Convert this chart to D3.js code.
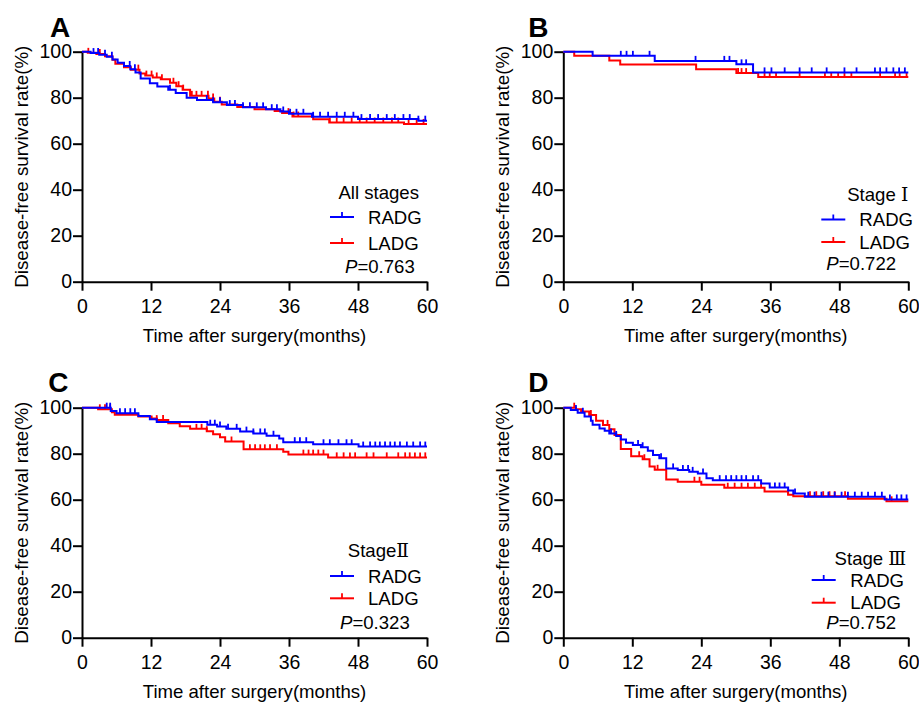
<!DOCTYPE html>
<html>
<head>
<meta charset="utf-8">
<script src="https://cdn.jsdelivr.net/npm/d3@7"></script>
<style>
body { margin: 0; background: #fff; }
text { font-family: "Liberation Sans", Arial, sans-serif; fill: #000; }
</style>
</head>
<body>
<svg id="chart" width="919" height="703"></svg>
<script>
// ---- data ----
const xTicks = [0, 12, 24, 36, 48, 60];
const yTicks = [0, 20, 40, 60, 80, 100];
const groups = ["RADG", "LADG"];
const groupColors = ["#0000ff", "#ff0000"];
const panelLetters = ["A", "B", "C", "D"];
const stageNames = ["All stages", "Stage ", "Stage", "Stage "];
const stageNumerals = ["", "Ⅰ", "Ⅱ", "Ⅲ"];
const pValues = ["0.763", "0.722", "0.323", "0.752"];

// step points: [month, survival %] — survival drops to the value at that month
const radgA = [[0,100],[1.5,99.4],[3,98.7],[4.3,97.8],[5.3,96.6],[6.2,95.2],[7.3,93.8],[8.4,92.4],[9.3,91],[10.2,88.3],[11.8,86.3],[13.1,84.9],[15,83.5],[16.3,82],[18.2,80],[20,79],[22.8,78],[25.2,76.8],[28,75.8],[32,75],[34.5,74],[36,73],[40,71.7],[48,70.7],[58.5,70]];
const ladgA = [[0,100],[1,99.5],[2.5,99],[4,98],[5.3,96.5],[5.8,94.8],[7.3,93.2],[8.5,92.2],[10,90.5],[11,89.6],[12.3,88.8],[13.7,88],[15.3,86.5],[16.4,85],[17.5,83.5],[18.8,80.8],[22,79.6],[23,78.2],[24.3,77],[27,76],[30,75],[33.5,74.2],[34.8,73.3],[36.6,71.8],[40.2,70.6],[43,69.2],[56,68.6]];
const radgCensA = [2,2.8,4,5.2,8.3,9.2,15.3,21.7,22.8,24,25.7,26.6,28,29.2,30.4,31.5,33,33.9,35,36.2,37.3,38.5,40.2,41.4,42.8,44.3,45.7,47.2,48.6,50.1,51.5,53,54.4,55.9,57,58.5,59.7];
const ladgCensA = [1.1,3.1,9.8,11.2,12.1,13,13.9,15.9,16.8,17.6,19.1,19.9,20.8,21.9,22.8,24,35.9,36.8,37.6,43.1,44.3,45.5,46.9,48.3,49.5,50.9,52.4,53.9,55,56.8,58.2,59.4];

const radgB = [[0,100],[5.1,98.2],[15.9,96],[30.1,94.5],[33,91]];
const ladgB = [[0,100],[1.9,98.2],[8,96.2],[9.9,94.4],[23.1,92.4],[30.1,90.7],[33.9,89]];
const radgCensB = [10,11,12.1,15,23,28,28.9,31,31.8,35,36.2,38.5,41.1,43.2,45.8,48.9,51,54.2,55.1,56.2,57.4,58.4,59.4];
const ladgCensB = [30.4,31,31.8,35,35.9,37,41.1,45.5,46.6,47.8,48.9,50.1,55.1,57.7,58.5,59.7];

const radgC = [[0,100],[5,98.6],[6,97.6],[9.8,96.4],[11.8,95],[13,93.8],[21.8,92.6],[23.5,91.8],[25.1,90.8],[27.5,89.6],[29.8,88.8],[32.1,87.8],[34.3,86.6],[35,85],[40.2,84.1],[48.1,83.1]];
const ladgC = [[0,100],[2.8,99.3],[5.2,98],[5.7,96.9],[9.8,96.2],[12.1,95.3],[13,94.6],[15,93.2],[17,91.9],[18.8,90.8],[21.7,89.8],[22.8,88.5],[24,87.1],[24.9,85.3],[28.1,81.9],[35,80.8],[35.9,79.6],[42.8,78.4]];
const radgCensC = [4.3,4.9,6.6,7.5,8.4,9.2,22.3,23.1,24,25.4,26.9,28.6,29.8,31,31.8,33.3,37,37.9,39,42,43.1,44.6,46,46.9,48.9,50.1,51,51.8,52.7,53.6,54.4,55.3,56.5,57.6,58.8,59.7];
const ladgCensC = [3.1,4,4.9,13,14.1,19.9,20.8,21.7,26,29.2,30.1,31,31.8,32.7,33.9,38.5,39.4,40.2,41.1,42,44.3,45.5,46.6,47.5,49.5,50.7,53,55,56.2,57,57.9,58.8,59.7];

const radgD = [[0,100],[1.3,99],[2.5,97.8],[3.7,96.2],[4.8,94.3],[5.1,92.6],[6.3,91],[7.2,90],[8,88.8],[9.2,87.7],[10,86.2],[10.9,84.8],[12.1,83.8],[13.5,82.8],[14.7,81.3],[15.6,79.4],[16.7,78],[17.9,73.6],[19.9,72.9],[21.9,72.1],[23.4,71.4],[24.9,69.3],[26,68.5],[34.4,67],[35.9,65.3],[39.1,64],[40,62.7],[42,61.3],[55.9,60.1]];
const ladgD = [[0,100],[2.2,99.3],[3.1,98.3],[4.5,96.8],[5.7,94.3],[6.9,92.5],[8,90.6],[8.9,88.1],[10,82],[11.8,78.9],[13.8,77.6],[15,74.4],[15.9,73],[17.9,68.8],[19.9,67.8],[24,66.5],[28,65.2],[35,63.6],[39.1,62.2],[40,61.5],[49.5,60.4],[56.2,59.3]];
const radgCensD = [2.2,3.4,8.3,9.2,13,13.8,17,19.1,20.8,21.7,22.5,24.3,27.2,28.3,29.2,30.1,31,31.8,33,33.9,36.8,37.6,38.5,40.3,42.6,43.7,44.9,46.1,47.2,48.4,49.5,50.7,51.9,53,54.2,55.4,56.8,58,58.8,59.7];
const ladgCensD = [1.9,4.8,7.7,13.2,14.1,16.4,22.8,23.7,28.6,29.8,31,32.1,33.3,34.4,39.1,42.9,44,45.2,46.3,47.2,49,57.1];

const curves = [[radgA, ladgA], [radgB, ladgB], [radgC, ladgC], [radgD, ladgD]];
const censors = [[radgCensA, ladgCensA], [radgCensB, ladgCensB], [radgCensC, ladgCensC], [radgCensD, ladgCensD]];

// ---- layout ----
const plotW = 345, plotH = 230;
const layout = [
  { x: 82, y: 51.7, letter: [-32, -15], leg: { titleX: 337, titleY: 147.3, lineX: 248, rows: [165.3, 191.3], textX: 286, pX: 263, pY: 221.3 } },
  { x: 563.3, y: 51.7, letter: [-35, -15], leg: { titleX: 345, titleY: 149.3, lineX: 258, rows: [167.8, 190.3], textX: 296, pX: 263, pY: 218.3 } },
  { x: 82, y: 407.7, letter: [-33.7, -16], leg: { titleX: 327, titleY: 149.3, lineX: 248, rows: [168.3, 190.6], textX: 286, pX: 258, pY: 221.3 } },
  { x: 563.3, y: 407.7, letter: [-35, -15.4], leg: { titleX: 343, titleY: 157.3, lineX: 248.4, rows: [172.3, 195], textX: 287, pX: 263, pY: 221.3 } }
];

const svg = d3.select("#chart");

const xScale = d3.scaleLinear().domain([0, 60]).range([0, plotW]);
const yScale = d3.scaleLinear().domain([0, 100]).range([plotH, 0]);

const stepLine = d3.line()
  .x(d => xScale(d[0]))
  .y(d => yScale(d[1]))
  .curve(d3.curveStepAfter);

function survivalAt(steps, t) {
  let v = steps[0][1];
  steps.forEach(s => { if (s[0] <= t) v = s[1]; });
  return v;
}

layout.forEach((p, i) => {
  const g = svg.append("g").attr("transform", `translate(${p.x},${p.y})`);

  // axes
  const yAxis = d3.axisLeft(yScale).tickValues(yTicks).tickSize(9).tickPadding(1).tickSizeOuter(0);
  const xAxis = d3.axisBottom(xScale).tickValues(xTicks).tickSize(9).tickPadding(8).tickSizeOuter(0);

  const gy = g.append("g").call(yAxis);
  const gx = g.append("g").attr("transform", `translate(0,${plotH})`).call(xAxis);
  [gx, gy].forEach(a => {
    a.select(".domain").attr("stroke", "#000").attr("stroke-width", 2);
    a.selectAll(".tick line").attr("stroke", "#000").attr("stroke-width", 2);
    a.selectAll(".tick text").attr("font-size", 19.5).attr("font-family", "Liberation Sans, Arial, sans-serif");
  });

  g.append("text")
    .attr("x", plotW / 2)
    .attr("y", plotH + 60)
    .attr("text-anchor", "middle")
    .attr("font-size", 18.6)
    .text("Time after surgery(months)");

  g.append("text")
    .attr("transform", `translate(${-p.x + 28 + (i % 2 ? 481.3 : 0)},${plotH / 2}) rotate(-90)`)
    .attr("text-anchor", "middle")
    .attr("font-size", 18.8)
    .text("Disease-free survival rate(%)");

  g.append("text")
    .attr("x", p.letter[0])
    .attr("y", p.letter[1])
    .attr("font-size", 28)
    .attr("font-weight", "bold")
    .text(panelLetters[i]);

  // curves: red first, blue on top
  [1, 0].forEach(k => {
    const steps = curves[i][k];
    const pts = steps.concat([[60, steps[steps.length - 1][1]]]);
    g.append("path")
      .attr("d", stepLine(pts))
      .attr("fill", "none")
      .attr("stroke", groupColors[k])
      .attr("stroke-width", 2);

    g.selectAll(null)
      .data(censors[i][k])
      .join("line")
      .attr("x1", d => xScale(d))
      .attr("x2", d => xScale(d))
      .attr("y1", d => yScale(survivalAt(steps, d)))
      .attr("y2", d => yScale(survivalAt(steps, d)) - 5)
      .attr("stroke", groupColors[k])
      .attr("stroke-width", 1.8);
  });

  // legend
  const L = p.leg;
  const title = g.append("text")
    .attr("x", L.titleX)
    .attr("y", L.titleY)
    .attr("text-anchor", "end")
    .attr("font-size", 18.6);
  title.append("tspan").text(stageNames[i]);
  if (stageNumerals[i]) {
    title.append("tspan")
      .attr("font-family", "'DejaVu Serif', 'Noto Sans CJK SC', serif")
      .text(stageNumerals[i]);
  }

  groups.forEach((name, k) => {
    const ry = L.rows[k];
    g.append("line")
      .attr("x1", L.lineX).attr("x2", L.lineX + 24)
      .attr("y1", ry).attr("y2", ry)
      .attr("stroke", groupColors[k]).attr("stroke-width", 2);
    g.append("line")
      .attr("x1", L.lineX + 12).attr("x2", L.lineX + 12)
      .attr("y1", ry).attr("y2", ry - 5)
      .attr("stroke", groupColors[k]).attr("stroke-width", 1.8);
    g.append("text")
      .attr("x", L.textX)
      .attr("y", ry + 6.6)
      .attr("font-size", 18.6)
      .text(name);
  });

  const pt = g.append("text")
    .attr("x", L.pX)
    .attr("y", L.pY)
    .attr("font-size", 18.6);
  pt.append("tspan").attr("font-style", "italic").text("P");
  pt.append("tspan").text("=" + pValues[i]);
});
</script>
</body>
</html>
